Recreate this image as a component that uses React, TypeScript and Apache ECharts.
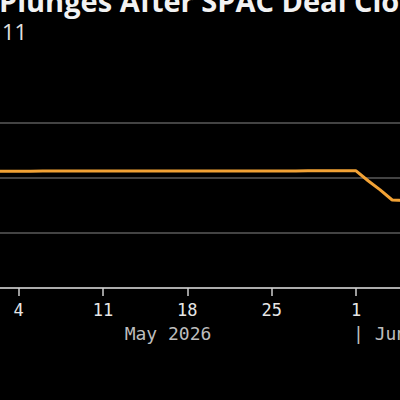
import React, { useEffect, useRef } from "react";
import * as echarts from "echarts";

// Trading days and closing prices (USD)
const dates = [
  "2026-04-27", "2026-04-28", "2026-04-29", "2026-04-30", "2026-05-01",
  "2026-05-04", "2026-05-05", "2026-05-06", "2026-05-07", "2026-05-08",
  "2026-05-11", "2026-05-12", "2026-05-13", "2026-05-14", "2026-05-15",
  "2026-05-18", "2026-05-19", "2026-05-20", "2026-05-21", "2026-05-22",
  "2026-05-26", "2026-05-27", "2026-05-28", "2026-05-29",
  "2026-06-01", "2026-06-02", "2026-06-03", "2026-06-04", "2026-06-05",
];
const prices = [
  10.62, 10.62, 10.62, 10.62, 10.62,
  10.62, 10.62, 10.63, 10.63, 10.63,
  10.63, 10.63, 10.63, 10.63, 10.64,
  10.64, 10.64, 10.64, 10.64, 10.64,
  10.64, 10.64, 10.65, 10.65,
  10.65, 9.75, 8.92, 8.0, 7.95,
];

// x axis runs in days counted from this Monday
const axisStart = "2026-04-27";
const axisDays = 42;
const tickStep = 7;
const yTicks = [0, 5, 10, 15];

const titleText = "Plunges After SPAC Deal Closes";
const subtitleText = "11";
const monthLabel = "May 2026";
const nextMonthLabel = "| Jun";

const DAY = 86400000;
const toDay = (s: string) =>
  Math.round((Date.parse(s + "T00:00:00Z") - Date.parse(axisStart + "T00:00:00Z")) / DAY);
const dayOfMonth = (v: number) =>
  String(new Date(Date.parse(axisStart + "T00:00:00Z") + v * DAY).getUTCDate());

// the canvas is wider than the window and shifted left, so the chart runs off both edges
const SHIFT = 100;
const CANVAS_W = 600;

export default function App() {
  const ref = useRef<HTMLDivElement>(null);

  useEffect(() => {
    if (!ref.current) return;
    const chart = echarts.init(ref.current, undefined, { renderer: "svg" });
    const mono = "'DejaVu Sans Mono', monospace";
    chart.setOption({
      animation: false,
      backgroundColor: "#000000",
      grid: {
        left: SHIFT - 65.7,
        right: CANVAS_W - (SHIFT + 440.4),
        top: 123,
        bottom: 112,
        containLabel: false,
        outerBoundsMode: "none",
      },
      xAxis: {
        type: "value",
        min: 0,
        max: axisDays,
        interval: tickStep,
        axisLine: { show: true, lineStyle: { color: "#cfcfcf", width: 1.5 } },
        axisTick: { show: true, length: 8, lineStyle: { color: "#cfcfcf", width: 1.5 } },
        axisLabel: {
          color: "#e6e6e6",
          fontFamily: mono,
          fontSize: 17,
          margin: 13,
          formatter: (v: number) => dayOfMonth(v),
        },
        splitLine: { show: false },
      },
      yAxis: {
        type: "value",
        position: "right",
        min: yTicks[0],
        max: yTicks[yTicks.length - 1],
        interval: yTicks[1] - yTicks[0],
        axisLine: { show: false },
        axisTick: { show: false },
        axisLabel: { show: false },
        splitLine: { show: true, lineStyle: { color: "#5a5a5a", width: 1.5 } },
      },
      series: [
        {
          type: "line",
          data: dates.map((d, i) => [toDay(d), prices[i]]),
          showSymbol: false,
          clip: true,
          lineStyle: { color: "#f2a235", width: 3 },
          z: 5,
        },
      ],
      graphic: [
        {
          type: "text",
          x: SHIFT - 1,
          y: 15,
          style: {
            text: titleText,
            fill: "#f2f2f2",
            font: "bold 29px 'Open Sans', sans-serif",
            verticalAlign: "bottom",
          },
        },
        {
          type: "text",
          x: SHIFT + 2,
          y: 42,
          style: {
            text: subtitleText,
            fill: "#e0e0e0",
            font: "22px 'Open Sans', sans-serif",
            verticalAlign: "bottom",
          },
        },
        {
          type: "text",
          x: SHIFT + 168,
          y: 333,
          style: {
            text: monthLabel,
            fill: "#bdbdbd",
            font: `18px ${mono}`,
            align: "center",
            verticalAlign: "middle",
          },
        },
        {
          type: "text",
          x: SHIFT + 353,
          y: 333,
          style: {
            text: nextMonthLabel,
            fill: "#bdbdbd",
            font: `18px ${mono}`,
            align: "left",
            verticalAlign: "middle",
          },
        },
      ],
    });
    return () => chart.dispose();
  }, []);

  return (
    <div
      ref={ref}
      style={{
        position: "fixed",
        left: -SHIFT,
        top: 0,
        width: CANVAS_W,
        height: 400,
        background: "#000",
      }}
    />
  );
}
